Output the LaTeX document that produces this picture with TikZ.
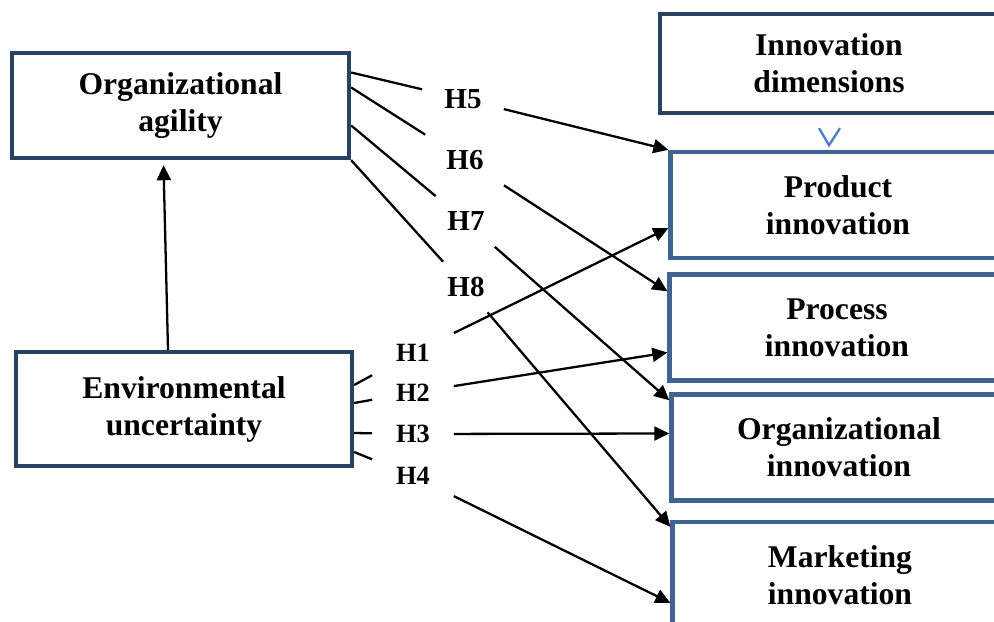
\documentclass[tikz,border=0pt]{standalone}
\usepackage{fontspec}
\setmainfont{Liberation Serif}
\usetikzlibrary{arrows.meta,calc}
\definecolor{boxnavy}{RGB}{41,66,100}
\definecolor{boxblue}{RGB}{63,100,146}
\definecolor{chevblue}{RGB}{74,126,193}

\begin{document}
\begin{tikzpicture}[x=0.02cm,y=-0.02cm,
  varbox/.style={draw=boxnavy,line width=2.5pt,rectangle,align=center,font=\fontsize{18}{21}\selectfont\bfseries},
  dimbox/.style={varbox,draw=boxblue,minimum width=6.7cm,minimum height=2.12cm},
  hyp/.style={rectangle,minimum width=1.62cm,minimum height=1cm,inner sep=0pt,font=\fontsize{15}{18}\selectfont\bfseries},
  hyptop/.style={hyp,font=\fontsize{16.5}{19}\selectfont\bfseries},
  link/.style={black,line width=1.3pt},
  arr/.style={link,-{Triangle[length=0.3cm,width=0.28cm]}}]

% Frame
\useasboundingbox (0,0) rectangle (994,622);
\clip (0,0) rectangle (994,622);

% Constructs on the left
\node[varbox,minimum width=6.74cm,minimum height=2.1cm] (oa) at (180.5,105.5) {Organizational\\agility};
\node[varbox,minimum width=6.72cm,minimum height=2.28cm] (eu) at (184,409) {Environmental\\uncertainty};

% Innovation dimensions on the right
\node[varbox,minimum width=6.76cm,minimum height=1.98cm] (id) at (829,63.5) {Innovation\\dimensions};
\node[dimbox] (pi) at (838,205) {Product\\innovation};
\node[dimbox] (pr) at (837,327.5) {Process\\innovation};
\node[dimbox] (oi) at (839,447.5) {Organizational\\innovation};
\node[dimbox] (mi) at (840,575) {Marketing\\innovation};

% Chevron under the dimensions box
\draw[chevblue,line width=1.3pt] ($(id.south)+(-10,13)$) -- ($(id.south)+(0,30)$) -- ($(id.south)+(11,13)$);

% Hypothesis labels
\node[hyptop] (h5) at (463,99) {H5};
\node[hyptop] (h6) at (465,160) {H6};
\node[hyptop] (h7) at (466,221.5) {H7};
\node[hyptop] (h8) at (466,287) {H8};
\node[hyp] (h1) at (413,353) {H1};
\node[hyp] (h2) at (413,392.5) {H2};
\node[hyp] (h3) at (413,434) {H3};
\node[hyp] (h4) at (413,476) {H4};

% Uncertainty to agility
\draw[arr] ($(eu.north)+(-16,0)$) -- ($(oa.south)+(-17,5)$);

% Agility paths
\draw[link] ($(oa.east)+(0,-33)$) -- (h5);
\draw[arr] (h5) -- (pi.north west);
\draw[link] ($(oa.east)+(0,-18)$) -- (h6);
\draw[arr] (h6) -- ($(pr.north west)+(0,19)$);
\draw[link] ($(oa.east)+(0,20)$) -- (h7);
\draw[arr] (h7) -- ($(oi.north west)+(0,8)$);
\draw[link] (oa.south east) -- (h8);
\draw[arr] (h8) -- ($(mi.north west)+(0,7)$);

% Uncertainty paths
\draw[link] ($(eu.east)+(0,-24)$) -- (h1);
\draw[arr] (h1) -- ($(pi.west)+(0,23)$);
\draw[link] ($(eu.east)+(0,-6)$) -- (h2);
\draw[arr] (h2) -- ($(pr.west)+(0,25)$);
\draw[link] ($(eu.east)+(0,24)$) -- (h3);
\draw[arr] (h3) -- ($(oi.west)+(0,-14)$);
\draw[link] ($(eu.east)+(0,43)$) -- (h4);
\draw[arr] (h4) -- ($(mi.north west)+(0,83)$);
\end{tikzpicture}
\end{document}
